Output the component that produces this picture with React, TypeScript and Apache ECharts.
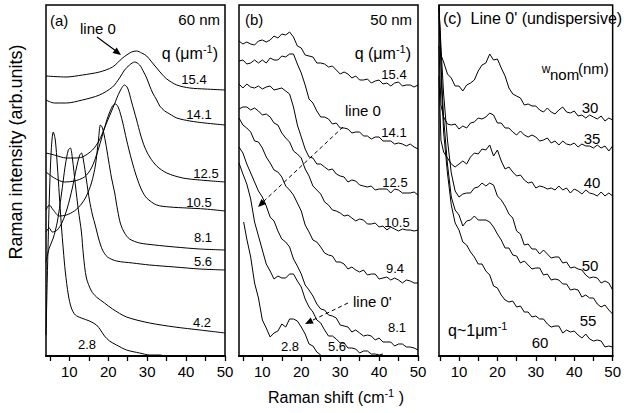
import React, { useEffect, useRef } from "react";
import * as echarts from "echarts";

const FONT = "'Liberation Sans', Arial, Helvetica, sans-serif";

// ---------- shared axis tick values ----------
const TICKS = [5, 10, 15, 20, 25, 30, 35, 40, 45, 50];
const TICK_LABELS = [10, 20, 30, 40, 50];

// ---------- Panel (a): 60 nm, pairs [Raman shift, intensity] ----------
const A_15_4 = [[4,280],[9.15,279],[13.35,281],[17.74,284],[21.1,289],[23.68,298],[26,304],[27.29,305],[28.58,303],[29.87,300],[31.16,294],[32.45,288],[33.74,282],[35.03,277],[37.61,271],[40.97,268],[44.84,267],[50,266]];
const A_14_1 = [[4,256],[6.13,253],[9.23,253],[13.35,256],[17.74,261],[21.1,269],[22.9,278],[24.19,286],[25.48,291],[26.77,294],[28.06,291],[29.1,284],[29.87,278],[30.65,270],[31.42,263],[32.45,256],[33.23,250],[34.52,245],[35.81,242],[37.61,238],[40.97,235],[44.84,233],[50,231]];
const A_12_5 = [[4,203],[6.13,201],[9.23,198],[11.29,198],[13.35,199],[15.94,206],[17.74,216],[19.03,228],[20.32,240],[21.61,252],[22.9,264],[24.19,271],[24.97,268],[26,254],[27.29,236],[28.32,221],[29.35,209],[30.65,199],[32.45,190],[35.03,183],[39.16,178],[43.55,176],[50,174]];
const A_10_5 = [[4,184],[6.13,178],[8.71,174],[11.29,175],[13.87,179],[15.68,188],[17.23,204],[18.52,221],[19.81,238],[21.1,250],[21.87,252],[22.65,248],[23.68,234],[24.71,216],[26,196],[27.29,179],[28.58,166],[29.87,158],[32.45,151],[35.81,149],[40.19,148],[44.84,147],[50,145]];
const A_8_1 = [[4,146],[4.84,151],[5.87,146],[7.42,140],[9.23,141],[11.29,145],[13.1,152],[14.39,160],[15.68,173],[16.71,191],[17.48,216],[18,231],[18.52,228],[19.29,214],[20.06,196],[20.84,178],[21.61,164],[22.39,146],[23.16,132],[24.19,123],[25.48,117],[28.06,113],[31.94,111],[37.1,109],[43.55,107],[50,106]];
const A_5_6 = [[4,124],[4.84,128],[5.61,124],[6.9,126],[8.19,134],[9.48,148],[10.77,168],[11.81,188],[12.58,200],[13.1,203],[13.61,196],[14.39,176],[15.16,156],[15.94,141],[16.71,130],[17.48,118],[18.52,106],[19.81,99],[22.13,95],[26.26,93],[30.65,91],[37.1,89],[43.55,87],[50,86]];
const A_4_2 = [[4,94],[4.84,108],[5.87,118],[6.9,134],[7.94,161],[8.97,191],[9.74,206],[10.26,208],[10.77,198],[11.55,171],[12.32,146],[13.1,124],[13.61,101],[14.39,78],[15.68,65],[16.97,59],[19.03,53],[21.1,47],[24.71,39],[30.65,33],[37.1,29],[43.55,26],[50,23]];
const A_2_8 = [[4,21],[4.32,76],[4.84,156],[5.35,206],[5.87,224],[6.39,216],[6.9,191],[7.42,161],[7.94,131],[8.45,106],[8.97,84],[9.74,61],[10.52,48],[11.55,41],[13.1,38],[15.16,35],[16.97,31],[18,26],[19.03,20],[20.32,15],[22.13,11],[24.71,6],[28.06,3],[30.65,1],[33.23,1],[34.52,0]];

// ---------- Panel (b): 50 nm ----------
const X_B = [4,5,6,7,8,9,10,11,12,13,14,15,16,17,18,19,20,21,22,23,24,25,26,27,28,29,30,31,32,33,34,35,36,37,38,39,40,41,42,43,44,45,46,47,48,49,50];
const B_15_4 = [315,312,314,312,311,315,316,314,316,320,318,322,321,324,319,310,308,301,300,299,293,293,292,289,290,286,282,284,282,278,280,276,276,277,273,275,276,272,273,270,273,274,270,271,271,269,271];
const B_14_1 = [295,296,292,293,296,293,296,293,298,296,296,300,299,302,302,292,283,271,257,253,245,239,239,237,232,233,228,228,227,223,224,224,220,220,217,219,219,215,215,215,212,213,212,210,212,209,207];
const B_12_5 = [272,268,272,269,268,270,267,269,270,266,267,268,265,262,249,231,219,207,199,198,192,192,189,186,187,182,180,179,174,176,175,171,170,169,170,166,167,167,167,163,167,166,163,163,163,164,161];
const B_10_5 = [247,249,249,246,248,245,241,242,239,233,231,223,218,214,205,202,198,187,180,170,166,162,154,151,146,145,143,140,141,138,135,137,136,132,132,133,129,130,126,129,127,125,127,126,126,125,126];
const B_9_4 = [238,231,228,224,215,214,208,199,193,186,184,179,170,166,161,153,145,131,124,116,114,109,103,101,100,94,94,92,87,89,86,84,86,81,82,82,77,78,79,76,78,76,73,76,75,73,73];
const B_8_1 = [209,203,192,183,174,165,159,150,139,135,125,117,114,109,97,90,82,71,66,60,52,47,46,41,40,38,31,30,29,24,26,23,20,21,20,16,18,14,14,14,10,12,12,9,9,8,6];
const X_B_5_6 = [4,5,6,7,8,9,10,11,12,13,14,15,16,17,18,19,20,21,22,23,24,25,26,27,28,29,30,31,32,33,34,35,36,37,38,39,40,41];
const B_5_6 = [193,182,172,157,134,120,106,92,85,77,80,78,78,82,82,75,69,57,49,44,36,33,26,20,20,17,13,13,8,8,7,3,5,5,2,2,1,2];
const X_B_2_8 = [5.2,6,7,8,9,10,11,12,13,14,15,16,17,18,19,20,21,22,23,24,25];
const B_2_8 = [134,117,99,73,58,36,28,19,23,25,32,29,37,37,35,29,22,12,10,4,1];

// ---------- Panel (c): Line 0' (undispersive), q ~ 1 um^-1 ----------
const X_C = [6,7,8,9,10,11,12,13,14,15,16,17,18,19,20,21,22,23,24,25,26,27,28,29,30,31,32,33,34,35,36,37,38,39,40,41,42,43,44,45,46,47,48,49,50];
const C_30_HEAD = [[4.8,340],[5.2,303],[5.6,298]];
const C_30 = [294,282,278,270,270,265,271,273,276,285,291,293,302,296,297,288,280,268,262,260,258,251,252,250,250,246,244,248,244,242,246,249,244,243,245,240,241,238,241,239,237,240,235,238,236];
const C_35_HEAD = [[4.8,310],[5.3,251]];
const C_35 = [239,232,231,232,227,230,228,233,234,238,237,239,243,241,233,233,228,228,224,221,225,221,219,221,219,215,216,218,213,215,211,215,212,211,213,209,212,210,210,208,211,208,210,205,210];
const C_40_HEAD = [[4.8,280],[5.3,216]];
const C_40 = [204,198,192,189,192,195,192,199,203,202,207,206,211,200,206,195,187,189,184,180,181,176,173,174,168,170,169,167,168,166,170,166,168,163,167,165,162,166,163,162,160,164,160,163,160];
const C_50_HEAD = [[4.8,348],[5.5,296]];
const C_50 = [262,216,183,165,159,162,163,163,168,169,173,170,173,171,160,156,150,142,138,125,122,111,112,107,107,102,106,102,98,99,99,93,94,88,89,87,86,81,78,79,78,73,75,73,66];
const C_55_HEAD = [[4.8,351],[5.5,276]];
const C_55 = [238,192,159,146,141,130,135,136,140,136,136,136,134,129,122,116,108,108,101,100,93,95,91,87,88,88,81,82,76,77,76,72,72,66,67,66,59,61,58,58,52,49,51,46,42];
const C_60_HEAD = [[4.8,351],[5.5,266]];
const C_60 = [224,183,151,133,126,114,111,104,99,92,92,85,81,70,68,61,56,54,55,49,50,44,44,39,40,37,37,32,29,30,30,23,26,24,25,21,18,22,17,15,16,15,9,10,9];

const zip = (xs: number[], ys: number[]) => ys.map((y, i) => [xs[i], y]);

function line(data: number[][], idx: number, smooth: number | boolean = false, width = 1) {
  return {
    type: "line",
    xAxisIndex: idx,
    yAxisIndex: idx,
    data,
    smooth,
    symbol: "none",
    showSymbol: false,
    clip: true,
    lineStyle: { color: "#000", width },
    silent: true,
  };
}

function txt(x: number, y: number, text: string, size: number, align = "center", extra: any = {}) {
  return {
    type: "text",
    x,
    y,
    silent: true,
    ...extra,
    style: {
      text,
      fill: "#000",
      fontSize: size,
      fontFamily: FONT,
      align,
      verticalAlign: "middle",
      textAlign: align,
      textVerticalAlign: "middle",
      ...(extra.style || {}),
    },
  };
}

function arrowHead(points: number[][]) {
  return { type: "polygon", silent: true, shape: { points }, style: { fill: "#000" } };
}

export default function App() {
  const ref = useRef<HTMLDivElement>(null);
  useEffect(() => {
    if (!ref.current) return;
    const chart = echarts.init(ref.current, undefined, { renderer: "svg" });
    const grids = [
      { left: 46, top: 5, width: 179, height: 351 },
      { left: 239, top: 5, width: 179, height: 351 },
      { left: 439, top: 5, width: 179, height: 351 },
    ].map((g) => ({ ...g, show: true, borderColor: "#000", borderWidth: 1.5, backgroundColor: "transparent" }));
    const mins = [4, 4, 4.8];
    const xAxis = mins.map((mn, i) => ({
      type: "value",
      gridIndex: i,
      min: mn,
      max: 50,
      axisLine: { show: true, onZero: false, lineStyle: { color: "#000", width: 2 } },
      axisTick: { show: true, inside: false, length: 5, customValues: TICKS, lineStyle: { color: "#000", width: 1.3 } },
      axisLabel: { show: true, customValues: TICK_LABELS, color: "#000", fontSize: 15, fontFamily: FONT, margin: 8 },
      splitLine: { show: false },
    }));
    const yAxis = [0, 1, 2].map((i) => ({ type: "value", gridIndex: i, min: 0, max: 351, show: false }));

    const sup = { s: { fontSize: 11, fontFamily: FONT, verticalAlign: "top", lineHeight: 10 } };

    const series = [
      line(A_15_4, 0, 0.3), line(A_14_1, 0, 0.3), line(A_12_5, 0, 0.3), line(A_10_5, 0, 0.3),
      line(A_8_1, 0, 0.3), line(A_5_6, 0, 0.3), line(A_4_2, 0, 0.3), line(A_2_8, 0, 0.3),
      line(zip(X_B, B_15_4), 1), line(zip(X_B, B_14_1), 1), line(zip(X_B, B_12_5), 1),
      line(zip(X_B, B_10_5), 1), line(zip(X_B, B_9_4), 1), line(zip(X_B, B_8_1), 1),
      line(zip(X_B_5_6, B_5_6), 1), line(zip(X_B_2_8, B_2_8), 1),
      line([...C_30_HEAD, ...zip(X_C, C_30)], 2), line([...C_35_HEAD, ...zip(X_C, C_35)], 2),
      line([...C_40_HEAD, ...zip(X_C, C_40)], 2), line([...C_50_HEAD, ...zip(X_C, C_50)], 2),
      line([...C_55_HEAD, ...zip(X_C, C_55)], 2), line([...C_60_HEAD, ...zip(X_C, C_60)], 2),
    ];

    const graphic = [
      // titles
      txt(16, 152, "Raman intensity (arb.units)", 18, "center", { rotation: Math.PI / 2 }),
      txt(336, 397, "Raman shift (cm{s|-1} )", 16, "center", { style: { rich: sup, lineHeight: 20 } }),
      // panel a
      txt(50, 20, "(a)", 15, "left"),
      txt(80, 28, "line 0", 15, "left"),
      txt(220, 19, "60 nm", 15, "right"),
      txt(218, 53, "q (\u03bcm{s|-1})", 16, "right", { style: { rich: sup, lineHeight: 20 } }),
      txt(194, 79, "15.4", 13), txt(199, 114, "14.1", 13), txt(206, 173, "12.5", 13),
      txt(199, 202, "10.5", 13), txt(203, 237, "8.1", 13), txt(203, 261, "5.6", 13),
      txt(202, 322, "4.2", 13), txt(87, 344, "2.8", 13),
      { type: "line", silent: true, shape: { x1: 97, y1: 37, x2: 116, y2: 51 }, style: { stroke: "#000", lineWidth: 1.2 } },
      arrowHead([[121, 55], [112.5, 53], [116.7, 47.4]]),
      // panel b
      txt(245, 19, "(b)", 15, "left"),
      txt(412, 19, "50 nm", 15, "right"),
      txt(411, 53, "q (\u03bcm{s|-1})", 16, "right", { style: { rich: sup, lineHeight: 20 } }),
      txt(394, 74, "15.4", 13), txt(394, 132, "14.1", 13), txt(395, 182, "12.5", 13),
      txt(397, 222, "10.5", 13), txt(395, 268, "9.4", 13), txt(397, 327, "8.1", 13),
      txt(290, 346, "2.8", 13), txt(337, 346, "5.6", 13),
      txt(345, 110, "line 0", 15, "left"),
      txt(353, 301, "line 0'", 15, "left"),
      { type: "line", silent: true, shape: { x1: 343, y1: 127, x2: 263, y2: 202 }, style: { stroke: "#000", lineWidth: 1, lineDash: [4, 3] } },
      arrowHead([[258, 207], [266.2, 204], [261.4, 199]]),
      { type: "line", silent: true, shape: { x1: 348, y1: 303, x2: 311, y2: 321 }, style: { stroke: "#000", lineWidth: 1, lineDash: [4, 3] } },
      arrowHead([[305, 324], [313.7, 323.6], [310.7, 317.4]]),
      // panel c
      txt(443, 18, "(c)  Line 0' (undispersive)", 16, "left"),
      txt(546, 69, "w", 12),
      txt(550, 74, "nom", 15, "left"),
      txt(578, 68, "(nm)", 15, "left"),
      txt(590, 107, "30", 15), txt(592, 138, "35", 15), txt(592, 182, "40", 15),
      txt(590, 265, "50", 15), txt(588, 320, "55", 15), txt(540, 342, "60", 15),
      txt(448, 330, "q~1\u03bcm{s|-1}", 16, "left", { style: { rich: sup, lineHeight: 20 } }),
    ];

    chart.setOption({
      animation: false,
      backgroundColor: "#fff",
      grid: grids,
      xAxis,
      yAxis,
      series,
      graphic,
    });
    return () => chart.dispose();
  }, []);
  return <div ref={ref} style={{ position: "absolute", left: 0, top: 0, width: 624, height: 413 }} />;
}
